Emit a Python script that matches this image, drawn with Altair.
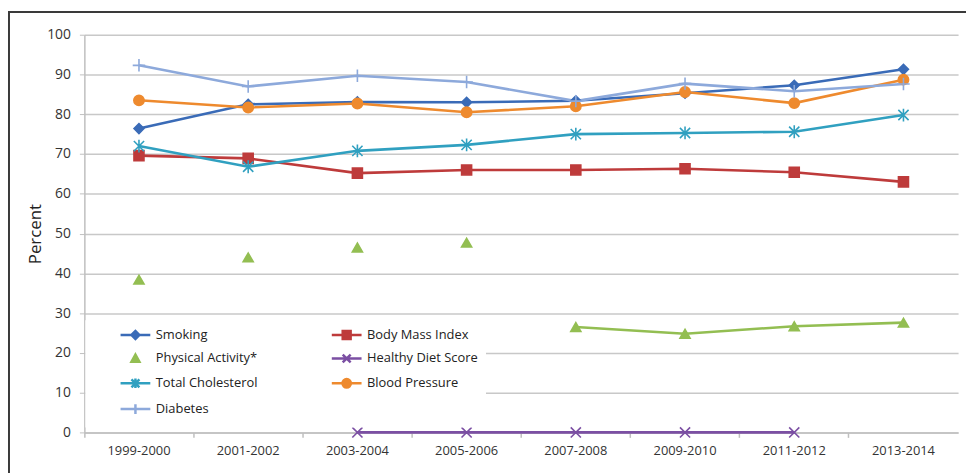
import altair as alt
import pandas as pd

periods = ["1999-2000", "2001-2002", "2003-2004", "2005-2006",
           "2007-2008", "2009-2010", "2011-2012", "2013-2014"]

series = ["Smoking", "Body Mass Index", "Physical Activity*", "Healthy Diet Score",
          "Total Cholesterol", "Blood Pressure", "Diabetes"]

smoking = [76.4, 82.5, 83.1, 83.0, 83.4, 85.3, 87.3, 91.3]
body_mass_index = [69.6, 68.9, 65.2, 66.0, 66.0, 66.3, 65.4, 63.0]
physical_activity = [38.4, 44.0, 46.5, 47.7, 26.5, 24.8, 26.7, 27.6]
physical_activity_joined = [False, False, False, False, True, True, True, True]
healthy_diet_score = [None, None, 0, 0, 0, 0, 0, None]
total_cholesterol = [72.0, 66.8, 70.8, 72.3, 75.0, 75.3, 75.6, 79.8]
blood_pressure = [83.5, 81.7, 82.7, 80.5, 82.0, 85.6, 82.8, 88.7]
diabetes = [92.3, 87.0, 89.7, 88.1, 83.3, 87.7, 85.8, 87.6]

colors = ["#3A6BB7", "#BE3B3B", "#93BE52", "#7B4FA3", "#30A0C0", "#EE8A2E", "#8DA9DB"]

marker_shapes = ["diamond", "square", "triangle-up",
                 "M-1,-1L1,1M-1,1L1,-1",
                 "M-1,-1L1,1M-1,1L1,-1M0,-1.25L0,1.25",
                 "circle",
                 "M-1.2,0L1.2,0M0,-1.2L0,1.2"]
marker_sizes = [100, 110, 90, 90, 100, 121, 100]

legend_shapes = [
    "M-3,0L3,0M-0.8,0L0,-0.8L0.8,0L0,0.8Z",
    "M-3,0L3,0M-0.8,-0.8L0.8,-0.8L0.8,0.8L-0.8,0.8Z",
    "M0,-0.8L0.8,0.65L-0.8,0.65Z",
    "M-3,0L3,0M-0.8,-0.8L0.8,0.8M-0.8,0.8L0.8,-0.8",
    "M-3,0L3,0M-0.8,-0.8L0.8,0.8M-0.8,0.8L0.8,-0.8M0,-0.95L0,0.95",
    "M-3,0L3,0M0.85,0A0.85,0.85,0,1,1,-0.85,0A0.85,0.85,0,1,1,0.85,0Z",
    "M-3,0L3,0M0,-1L0,1",
]

values_by_series = [smoking, body_mass_index, physical_activity, healthy_diet_score,
                    total_cholesterol, blood_pressure, diabetes]

rows = []
for name, vals in zip(series, values_by_series):
    for i, (p, v) in enumerate(zip(periods, vals)):
        if v is None:
            continue
        joined = physical_activity_joined[i] if name == "Physical Activity*" else True
        rows.append({"series": name, "period": p, "value": v, "joined": joined})
df = pd.DataFrame(rows)

FONT = "Open Sans"

x_enc = alt.X("period:O", sort=periods,
              scale=alt.Scale(type="band", domain=periods, paddingInner=0, paddingOuter=0),
              axis=alt.Axis(title=None, labelAngle=0, labelFont=FONT, labelFontSize=13,
                            labelColor="#333333", labelPadding=7, tickSize=5,
                            tickColor="#BFBFBF", tickWidth=1.5, domainColor="#BFBFBF",
                            domainWidth=1.5, bandPosition=0, grid=False))
y_enc = alt.Y("value:Q", scale=alt.Scale(domain=[0, 100], nice=False),
              axis=alt.Axis(title="Percent", values=list(range(0, 101, 10)),
                            titleFont=FONT, titleFontSize=17, titleFontWeight="normal",
                            titleColor="#222222", titleX=-44, titleBaseline="alphabetic",
                            labelFont=FONT, labelFontSize=14, labelColor="#333333",
                            labelPadding=9, tickSize=5, tickColor="#BFBFBF",
                            domainColor="#BFBFBF", domainWidth=1.5,
                            gridColor="#C8C8C8", gridWidth=1.5))

color_scale = alt.Scale(domain=series, range=colors)

frame = alt.Chart(alt.Data(values=[{"f": 1}])).mark_rect(
    fill="transparent", stroke="#3A3A3A", strokeWidth=2
).encode(x=alt.value(-76), x2=alt.value(940), y=alt.value(-23), y2=alt.value(470))

base = alt.Chart(df)

lines = base.transform_filter("datum.joined").mark_line(strokeWidth=2.6).encode(
    x=x_enc, y=y_enc,
    stroke=alt.Stroke("series:N", scale=color_scale, legend=None),
    detail="series:N",
)

points = base.mark_point(filled=True, opacity=1, strokeWidth=1.6).encode(
    x=x_enc, y=y_enc,
    fill=alt.Fill("series:N", scale=color_scale, legend=None),
    stroke=alt.Stroke("series:N", scale=color_scale, legend=None),
    shape=alt.Shape("series:N", scale=alt.Scale(domain=series, range=marker_shapes), legend=None),
    size=alt.Size("series:N", scale=alt.Scale(domain=series, range=marker_sizes), legend=None),
)

legend = alt.Legend(title=None, orient="none", direction="horizontal",
                    legendX=1, legendY=288, columns=2,
                    columnPadding=47, rowPadding=5, padding=8, fillColor="white",
                    symbolSize=100, symbolStrokeWidth=2.5, symbolOffset=36,
                    labelOffset=14, labelFont=FONT, labelFontSize=13, labelColor="#222222",
                    symbolOpacity=1)

legend_layer = base.transform_filter("false").mark_point(filled=True, opacity=1).encode(
    x=x_enc, y=y_enc,
    fill=alt.Fill("series:N", scale=color_scale, legend=legend),
    stroke=alt.Stroke("series:N", scale=color_scale, legend=legend),
    shape=alt.Shape("series:N", scale=alt.Scale(domain=series, range=legend_shapes), legend=legend),
)

chart = alt.layer(frame, lines, points, legend_layer).resolve_scale(
    shape="independent", fill="independent", stroke="independent", size="independent"
).properties(
    width=881, height=401,
    autosize=alt.AutoSizeParams(type="none"),
    padding={"left": 77, "top": 25, "right": 8, "bottom": 39},
).configure_view(stroke=None)

chart.save("out.html", embed_options={"renderer": "svg", "actions": False})
